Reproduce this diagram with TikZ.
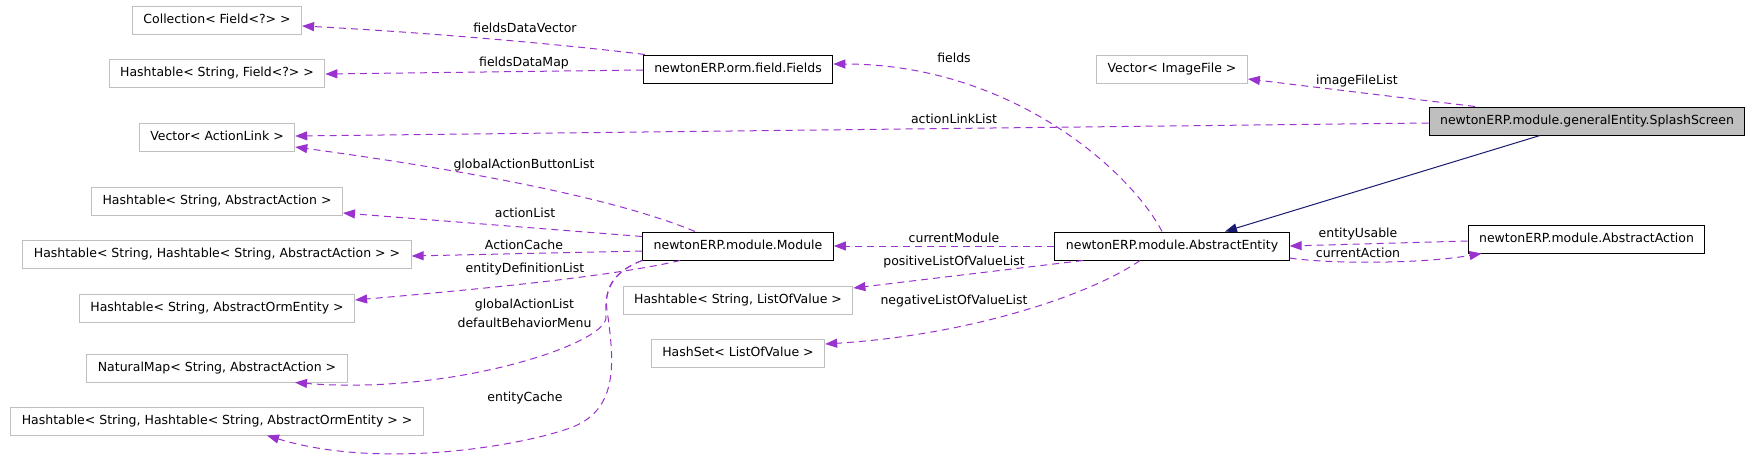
\documentclass[tikz,border=0pt]{standalone}
\usepackage{fontspec}
\setmainfont{DejaVu Sans}
\usetikzlibrary{arrows.meta}

\definecolor{edgepurple}{HTML}{9A32CD}
\definecolor{inhblue}{HTML}{191970}
\definecolor{extgray}{HTML}{BFBFBF}

\newcommand*{\colA}{217}
\newcommand*{\colB}{738}
\newcommand*{\colC}{1172}
\newcommand*{\colD}{1587}

\begin{document}
\begin{tikzpicture}
[
	x=1pt, y=-1pt,
	every node/.style={font=\fontsize{12.5pt}{15pt}\selectfont},
	extclass/.style={draw=extgray,line width=1pt,minimum height=28pt,inner xsep=11pt,text height=9.2pt,text depth=2.6pt},
	docclass/.style={extclass,draw=black},
	mainclass/.style={docclass,fill=extgray},
	usage/.style={color=edgepurple,line width=1pt,dash pattern=on 7pt off 5pt,-{Triangle[length=12pt,width=9pt]}},
	inherit/.style={color=inhblue,line width=1pt,-{Triangle[length=12pt,width=9pt]}},
	lbl/.style={anchor=base,inner sep=0pt}
]
	\useasboundingbox (0,0) rectangle (1752,466);

	% classes
	\node[extclass] (coll) at (\colA,20) {Collection< Field<?> >};
	\node[extclass] (htfield) at (\colA,73) {Hashtable< String, Field<?> >};
	\node[extclass] (linkvec) at (\colA,137.5) {Vector< ActionLink >};
	\node[extclass] (htact) at (\colA,201) {Hashtable< String, AbstractAction >};
	\node[extclass] (hthtact) at (\colA,254.5) {Hashtable< String, Hashtable< String, AbstractAction > >};
	\node[extclass] (htorm) at (\colA,308) {Hashtable< String, AbstractOrmEntity >};
	\node[extclass] (natmap) at (\colA,368) {NaturalMap< String, AbstractAction >};
	\node[extclass] (hthtorm) at (\colA,421) {Hashtable< String, Hashtable< String, AbstractOrmEntity > >};

	\node[docclass] (fields) at (\colB,69) {newtonERP.orm.field.Fields};
	\node[docclass] (module) at (\colB,246) {newtonERP.module.Module};
	\node[extclass] (htlov) at (\colB,300) {Hashtable< String, ListOfValue >};
	\node[extclass] (hslov) at (\colB,353) {HashSet< ListOfValue >};

	\node[extclass] (imgvec) at (\colC,69) {Vector< ImageFile >};
	\node[docclass] (entity) at (\colC,246) {newtonERP.module.AbstractEntity};

	\node[mainclass] (splash) at (\colD,121) {newtonERP.module.generalEntity.SplashScreen};
	\node[docclass] (action) at (1586.5,239) {newtonERP.module.AbstractAction};

	% members
	\draw[usage] ([xshift=2pt]fields.north west) .. controls (560,44) and (420,32) .. ([yshift=-6pt]coll.east);
	\draw[usage] ([yshift=-1pt]fields.west) -- ([yshift=-1pt]htfield.east);
	\draw[usage] ([yshift=-2pt]splash.west) -- ([yshift=1.5pt]linkvec.east);
	\draw[usage] ([xshift=-43pt]module.north) .. controls (610,196) and (450,168) .. ([yshift=-9.5pt]linkvec.east);
	\draw[usage] ([yshift=-5pt]module.north west) -- ([yshift=-12pt]htact.east);
	\draw[usage] ([yshift=-5pt]module.west) -- ([yshift=-1.5pt]hthtact.east);
	\draw[usage] ([xshift=38pt]module.south west) .. controls (610,277) and (470,290) .. ([yshift=8pt]htorm.east);
	\draw[usage] (module.south west) .. controls (612,272) and (604,290) .. (606,318)
		.. controls (604,345) and (450,395) .. ([xshift=78pt]natmap.south);
	\draw[usage] (module.south west) .. controls (612,272) and (604,290) .. (607,310)
		.. controls (614,360) and (620,410) .. (570,428)
		.. controls (520,446) and (380,470) .. ([xshift=50pt]hthtorm.south);
	\draw[usage] (entity.west) -- (module.east);
	\draw[usage] ([xshift=-89pt]entity.south) -- ([yshift=12pt]htlov.east);
	\draw[usage] ([xshift=-32pt]entity.south) .. controls (1090,295) and (970,335) .. ([yshift=9pt]hslov.east);
	\draw[usage] ([xshift=-10pt]entity.north) .. controls (1130,170) and (1010,64) .. ([yshift=5pt]fields.east);
	\draw[usage] ([xshift=-112pt]splash.north) -- ([yshift=-10pt]imgvec.east);
	\draw[usage] ([yshift=-2pt]action.west) -- (entity.east);
	\draw[usage] ([yshift=-12pt]entity.east) .. controls (1330,264) and (1420,264) .. ([xshift=-105pt]action.south);

	% inheritance
	\draw[inherit] ([xshift=-47pt]splash.south) -- ([xshift=53pt]entity.north);

	% labels
	\node[lbl] (l-fdv) at (525,32) {fieldsDataVector};
	\node[lbl] (l-fdm) at (524,66) {fieldsDataMap};
	\node[lbl] (l-fld) at (954,62) {fields};
	\node[lbl] (l-img) at (1357,84) {imageFileList};
	\node[lbl] (l-alk) at (954,123) {actionLinkList};
	\node[lbl] (l-gab) at (524,168) {globalActionButtonList};
	\node[lbl] (l-act) at (525,217) {actionList};
	\node[lbl] (l-ach) at (524,249) {ActionCache};
	\node[lbl] (l-edl) at (525,272) {entityDefinitionList};
	\node[lbl,anchor=center,align=center] (l-gal) at (524.5,313) {globalActionList\\[4pt]defaultBehaviorMenu};
	\node[lbl] (l-ech) at (525,401) {entityCache};
	\node[lbl] (l-cmd) at (954,242) {currentModule};
	\node[lbl] (l-pos) at (954,265) {positiveListOfValueList};
	\node[lbl] (l-neg) at (954,304) {negativeListOfValueList};
	\node[lbl] (l-use) at (1358,237) {entityUsable};
	\node[lbl] (l-cac) at (1358,257) {currentAction};

\end{tikzpicture}
\end{document}
